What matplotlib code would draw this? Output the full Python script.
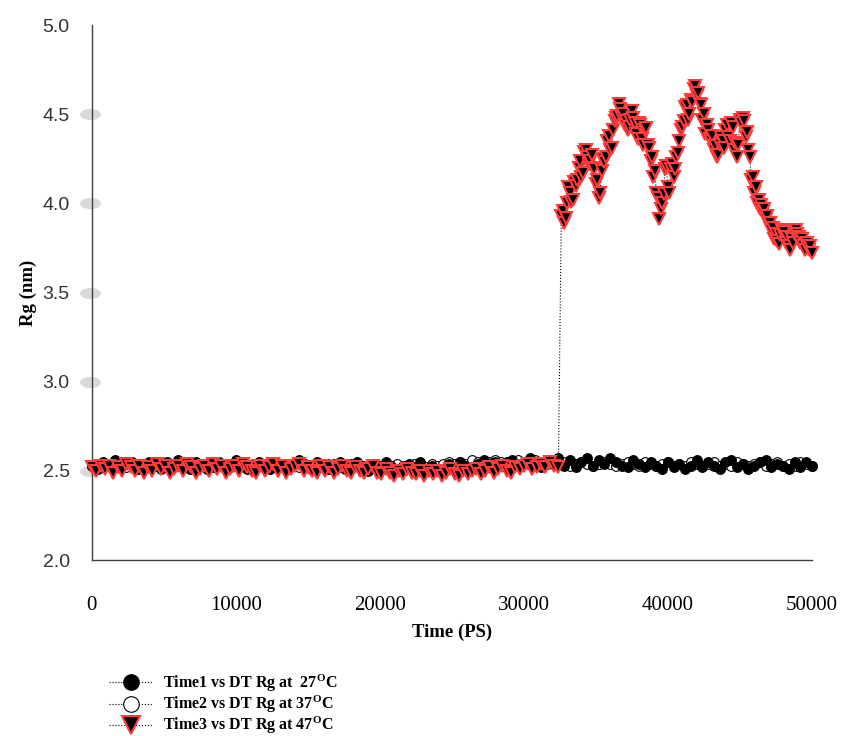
import numpy as np
import matplotlib
matplotlib.use('Agg')
import matplotlib.pyplot as plt
from matplotlib.path import Path
from matplotlib.transforms import Affine2D

# Rg trajectories of DT at three temperatures
time12 = np.arange(0, 50001, 400)

rg_27 = [
    2.53, 2.51, 2.55, 2.53, 2.56, 2.52, 2.54, 2.55, 2.51, 2.53,
    2.55, 2.53, 2.51, 2.55, 2.53, 2.56, 2.53, 2.51, 2.55, 2.54,
    2.51, 2.53, 2.55, 2.52, 2.54, 2.56, 2.53, 2.51, 2.54, 2.55,
    2.53, 2.51, 2.55, 2.53, 2.51, 2.54, 2.56, 2.53, 2.51, 2.55,
    2.53, 2.51, 2.54, 2.55, 2.51, 2.53, 2.55, 2.53, 2.50, 2.53,
    2.52, 2.55, 2.53, 2.51, 2.50, 2.54, 2.52, 2.55, 2.51, 2.53,
    2.51, 2.50, 2.54, 2.52, 2.55, 2.53, 2.51, 2.54, 2.56, 2.53,
    2.55, 2.53, 2.55, 2.56, 2.53, 2.55, 2.57, 2.54, 2.52, 2.56,
    2.54, 2.57, 2.53, 2.56, 2.52, 2.55, 2.57, 2.53, 2.56, 2.54,
    2.57, 2.55, 2.53, 2.52, 2.56, 2.54, 2.52, 2.55, 2.53, 2.51,
    2.55, 2.52, 2.54, 2.51, 2.53, 2.56, 2.52, 2.55, 2.53, 2.51,
    2.55, 2.56, 2.52, 2.54, 2.51, 2.53, 2.55, 2.56, 2.52, 2.54,
    2.53, 2.51, 2.55, 2.52, 2.55, 2.53,
]

rg_37 = [
    2.53, 2.54, 2.52, 2.53, 2.54, 2.53, 2.52, 2.54, 2.53, 2.52,
    2.53, 2.54, 2.53, 2.52, 2.53, 2.54, 2.52, 2.53, 2.54, 2.53,
    2.53, 2.52, 2.54, 2.53, 2.52, 2.53, 2.54, 2.53, 2.52, 2.53,
    2.54, 2.53, 2.52, 2.53, 2.54, 2.53, 2.52, 2.54, 2.53, 2.52,
    2.53, 2.54, 2.53, 2.52, 2.53, 2.54, 2.53, 2.52, 2.53, 2.54,
    2.53, 2.52, 2.53, 2.54, 2.53, 2.53, 2.54, 2.53, 2.52, 2.54,
    2.53, 2.54, 2.55, 2.54, 2.55, 2.54, 2.56, 2.55, 2.54, 2.55,
    2.56, 2.55, 2.54, 2.55, 2.56, 2.55, 2.54, 2.56, 2.55, 2.54,
    2.55, 2.54, 2.55, 2.53, 2.54, 2.55, 2.54, 2.53, 2.54, 2.55,
    2.54, 2.53, 2.54, 2.55, 2.54, 2.53, 2.55, 2.54, 2.53, 2.54,
    2.55, 2.53, 2.54, 2.53, 2.55, 2.54, 2.53, 2.54, 2.55, 2.53,
    2.54, 2.53, 2.55, 2.54, 2.53, 2.54, 2.55, 2.53, 2.54, 2.55,
    2.53, 2.54, 2.53, 2.55, 2.54, 2.53,
]

# 47 C run: stable up to ~32.4 ns, then unfolds
time3_low = np.arange(0, 32401, 300)
time3_high = np.arange(32600, 50001, 100)

rg_47_low = [
    2.52, 2.50, 2.53, 2.51, 2.53, 2.49, 2.52, 2.50, 2.54, 2.52,
    2.50, 2.53, 2.49, 2.52, 2.50, 2.54, 2.51, 2.53, 2.49, 2.51,
    2.53, 2.50, 2.54, 2.52, 2.49, 2.51, 2.53, 2.50, 2.54, 2.51,
    2.53, 2.49, 2.51, 2.53, 2.50, 2.54, 2.52, 2.50, 2.49, 2.53,
    2.50, 2.52, 2.54, 2.50, 2.53, 2.49, 2.51, 2.53, 2.54, 2.50,
    2.52, 2.50, 2.49, 2.53, 2.50, 2.52, 2.49, 2.51, 2.53, 2.50,
    2.49, 2.52, 2.50, 2.49, 2.51, 2.53, 2.49, 2.48, 2.51, 2.49,
    2.47, 2.50, 2.48, 2.51, 2.49, 2.48, 2.50, 2.47, 2.50, 2.48,
    2.50, 2.47, 2.49, 2.51, 2.48, 2.47, 2.50, 2.48, 2.50, 2.51,
    2.48, 2.50, 2.52, 2.49, 2.51, 2.53, 2.50, 2.49, 2.52, 2.51,
    2.53, 2.54, 2.51, 2.52, 2.54, 2.52, 2.55, 2.53, 2.52,
]

rg_47_high = [
    3.93, 3.96, 3.89, 3.92, 4.00, 4.09, 4.06, 4.01, 4.02, 4.12,
    4.10, 4.13, 4.20, 4.24, 4.15, 4.17, 4.29, 4.30, 4.26, 4.22,
    4.24, 4.27, 4.20, 4.19, 4.11, 4.13, 4.03, 4.06, 4.18, 4.25,
    4.23, 4.26, 4.35, 4.38, 4.30, 4.31, 4.41, 4.46, 4.48, 4.49,
    4.56, 4.53, 4.48, 4.50, 4.44, 4.46, 4.41, 4.43, 4.47, 4.52,
    4.48, 4.45, 4.39, 4.36, 4.45, 4.44, 4.36, 4.33, 4.41, 4.42,
    4.33, 4.31, 4.24, 4.26, 4.15, 4.18, 4.06, 4.03, 3.91, 3.97,
    4.00, 4.05, 4.19, 4.21, 4.09, 4.06, 4.19, 4.22, 4.15, 4.19,
    4.26, 4.28, 4.35, 4.41, 4.43, 4.46, 4.54, 4.55, 4.47, 4.50,
    4.58, 4.57, 4.64, 4.66, 4.60, 4.62, 4.56, 4.55, 4.47, 4.50,
    4.39, 4.44, 4.41, 4.36, 4.35, 4.38, 4.30, 4.32, 4.26, 4.27,
    4.33, 4.37, 4.35, 4.31, 4.41, 4.44, 4.37, 4.35, 4.45, 4.43,
    4.30, 4.34, 4.26, 4.33, 4.47, 4.45, 4.48, 4.46, 4.37, 4.40,
    4.30, 4.26, 4.13, 4.15, 4.06, 4.09, 4.00, 4.02, 3.97, 3.99,
    3.95, 3.97, 3.91, 3.93, 3.88, 3.89, 3.85, 3.86, 3.80, 3.83,
    3.79, 3.77, 3.82, 3.85, 3.83, 3.84, 3.78, 3.81, 3.76, 3.74,
    3.80, 3.78, 3.83, 3.85, 3.83, 3.81, 3.78, 3.80, 3.76, 3.74,
    3.77, 3.78, 3.74, 3.76, 3.72,
]

time3 = np.concatenate([time3_low, time3_high])
rg_47 = rg_47_low + rg_47_high

labels = [
    'Time1 vs DT Rg at  27$^{O}$C',
    'Time2 vs DT Rg at 37$^{O}$C',
    'Time3 vs DT Rg at 47$^{O}$C',
]
y_ticks = [2.0, 2.5, 3.0, 3.5, 4.0, 4.5, 5.0]
x_ticks = [0, 10000, 20000, 30000, 40000, 50000]

plt.rcParams['mathtext.fontset'] = 'custom'
plt.rcParams['mathtext.rm'] = 'Liberation Serif:bold'
plt.rcParams['mathtext.default'] = 'rm'

fig = plt.figure(figsize=(8.43, 7.36), dpi=100)
ax = fig.add_axes([0.109, 0.239, 0.854, 0.727])

line_kw = dict(linestyle=':', color='black', linewidth=0.8, clip_on=False)
l1, = ax.plot(time12, rg_27, marker='o', markersize=7, markerfacecolor='black',
              markeredgecolor='black', markeredgewidth=0.8, label=labels[0],
              zorder=3, **line_kw)
l2, = ax.plot(time12, rg_37, marker='o', markersize=7, markerfacecolor='white',
              markeredgecolor='black', markeredgewidth=0.8, label=labels[1],
              zorder=2, **line_kw)
l3, = ax.plot(time3, rg_47, marker='v', markersize=8, markerfacecolor='black',
              markeredgecolor='#ff3b3b', markeredgewidth=1.5, label=labels[2],
              zorder=4, **line_kw)

# grey oval blobs beside the y ticks
oval = Path.unit_circle().transformed(Affine2D().scale(1.0, 0.5))
ax.plot([-150] * 5, y_ticks[1:-1], linestyle='none', marker=oval, markersize=14,
        color='#d9d9d9', clip_on=False, zorder=1)

ax.set_xlim(0, 50000)
ax.set_ylim(2.0, 5.0)
ax.set_xticks(x_ticks)
ax.set_yticks(y_ticks)
ax.set_xticklabels([str(t) for t in x_ticks], family='Liberation Serif', fontsize=15)
ax.set_yticklabels(['%.1f' % v for v in y_ticks], family='Liberation Sans', fontsize=14,
                   color='#333333')
ax.tick_params(axis='x', length=0, pad=26)
ax.tick_params(axis='y', length=0, pad=16)

for side in ['top', 'right']:
    ax.spines[side].set_visible(False)
for side in ['left', 'bottom']:
    ax.spines[side].set_color('#404040')
    ax.spines[side].set_linewidth(1.0)

ax.set_xlabel('Time (PS)', family='Liberation Serif', fontweight='bold', fontsize=13.5,
              labelpad=6)
ax.set_ylabel('Rg (nm)', family='Liberation Serif', fontweight='bold', fontsize=13.5,
              labelpad=4)

fig.legend(handles=[l1, l2, l3], loc='upper left', bbox_to_anchor=(0.12, 0.097),
           frameon=False, borderpad=0, markerscale=1.6, handlelength=2.7,
           handletextpad=0.7, labelspacing=0.0,
           prop={'family': 'Liberation Serif', 'weight': 'bold', 'size': 11.5})

fig.savefig('out.png', dpi=100)
plt.close(fig)
